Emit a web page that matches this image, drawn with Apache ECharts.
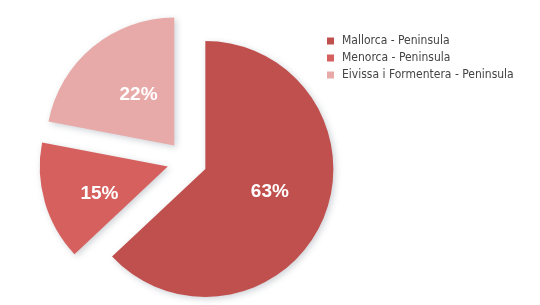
<!DOCTYPE html>
<html>
<head>
<meta charset="utf-8">
<script src="https://cdn.jsdelivr.net/npm/echarts@6/dist/echarts.min.js"></script>
<style>
  html, body { margin: 0; padding: 0; background: #fff; }
  #chart { width: 540px; height: 305px; }
</style>
</head>
<body>
<div id="chart"></div>
<script>
const categories = ['Mallorca - Peninsula', 'Menorca - Peninsula', 'Eivissa i Formentera - Peninsula'];
const shares = [63, 15, 22];
const colors = ['#c0504d', '#d6605d', '#e8aaa9'];
// small nudges [dx, dy] so the percentage labels sit where the original put them
const labelNudges = [[3, -4], [-4, 8], [7, 1]];

// pie inside labels ignore offset, so shift them with uneven padding
function nudgePadding(n) {
  const dx = n[0], dy = n[1];
  return [
    Math.max(0, 2 * dy), Math.max(0, -2 * dx),
    Math.max(0, -2 * dy), Math.max(0, 2 * dx)
  ];
}

const labelFont = {
  color: '#fff',
  fontFamily: 'Arial, "Liberation Sans", sans-serif',
  fontWeight: 'bold',
  fontSize: 19
};

const myChart = echarts.init(document.getElementById('chart'));

const option = {
  animation: false,
  legend: {
    orient: 'vertical',
    left: 322,
    top: 30,
    itemWidth: 7,
    itemHeight: 7,
    itemGap: 5,
    icon: 'rect',
    selectedMode: false,
    textStyle: {
      fontFamily: '"Liberation Sans Narrow", "Arial Narrow", "DejaVu Sans Condensed", Arial, sans-serif',
      fontSize: 12,
      color: '#444',
      padding: [0, 0, 0, 3]
    },
    data: categories
  },
  series: [
    {
      type: 'pie',
      center: [187, 161],
      radius: [0, 128],
      startAngle: 90,
      clockwise: true,
      selectedMode: 'multiple',
      selectedOffset: 20,
      label: Object.assign({
        position: 'inside',
        formatter: '{p|{c}%}'
      }, labelFont),
      labelLine: { show: false },
      itemStyle: {
        shadowBlur: 6,
        shadowOffsetX: 2,
        shadowOffsetY: 2,
        shadowColor: 'rgba(60,70,90,0.25)'
      },
      emphasis: { disabled: true },
      data: categories.map((name, i) => ({
        name: name,
        value: shares[i],
        selected: true,
        itemStyle: { color: colors[i] },
        label: {
          rich: {
            p: Object.assign({ padding: nudgePadding(labelNudges[i]) }, labelFont)
          }
        }
      }))
    }
  ]
};

myChart.setOption(option);
</script>
</body>
</html>
